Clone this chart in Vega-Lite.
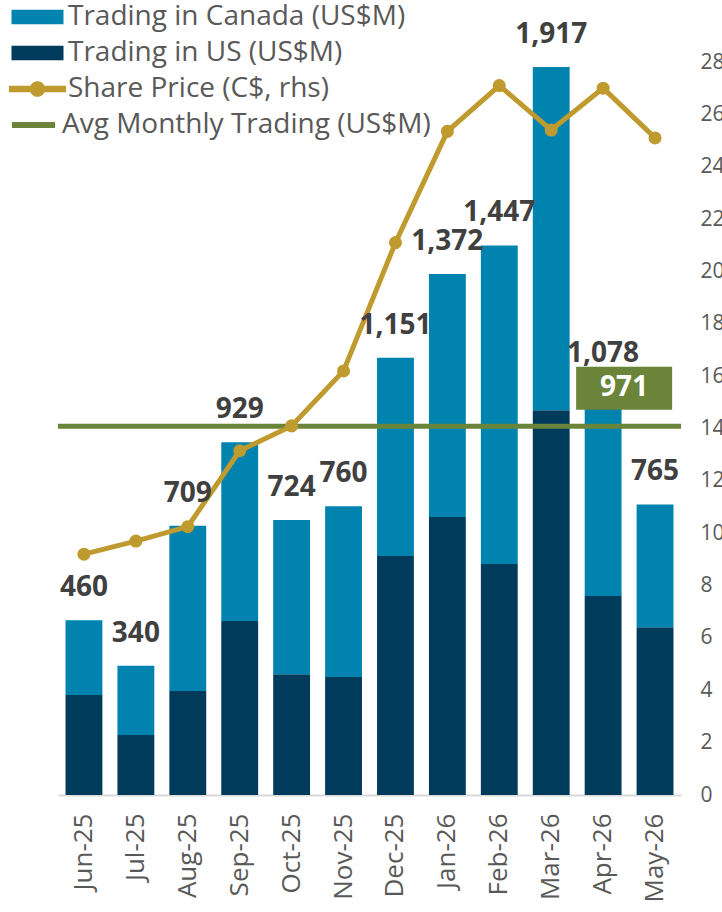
{
  "$schema": "https://vega.github.io/schema/vega-lite/v6.json",
  "autosize": {"type": "none"},
  "padding": {"left": 58, "top": 62, "right": 41, "bottom": 117},
  "width": 623,
  "height": 733,
  "background": "white",
  "config": {
    "view": {"stroke": null},
    "font": "Open Sans"
  },
  "datasets": {
    "trading": [
      {"month": "Jun-25", "series": "Trading in US (US$M)", "value": 263},
      {"month": "Jun-25", "series": "Trading in Canada (US$M)", "value": 197},
      {"month": "Jul-25", "series": "Trading in US (US$M)", "value": 158},
      {"month": "Jul-25", "series": "Trading in Canada (US$M)", "value": 182},
      {"month": "Aug-25", "series": "Trading in US (US$M)", "value": 274},
      {"month": "Aug-25", "series": "Trading in Canada (US$M)", "value": 435},
      {"month": "Sep-25", "series": "Trading in US (US$M)", "value": 458},
      {"month": "Sep-25", "series": "Trading in Canada (US$M)", "value": 471},
      {"month": "Oct-25", "series": "Trading in US (US$M)", "value": 318},
      {"month": "Oct-25", "series": "Trading in Canada (US$M)", "value": 406},
      {"month": "Nov-25", "series": "Trading in US (US$M)", "value": 311},
      {"month": "Nov-25", "series": "Trading in Canada (US$M)", "value": 449},
      {"month": "Dec-25", "series": "Trading in US (US$M)", "value": 629},
      {"month": "Dec-25", "series": "Trading in Canada (US$M)", "value": 522},
      {"month": "Jan-26", "series": "Trading in US (US$M)", "value": 732},
      {"month": "Jan-26", "series": "Trading in Canada (US$M)", "value": 640},
      {"month": "Feb-26", "series": "Trading in US (US$M)", "value": 608},
      {"month": "Feb-26", "series": "Trading in Canada (US$M)", "value": 839},
      {"month": "Mar-26", "series": "Trading in US (US$M)", "value": 1013},
      {"month": "Mar-26", "series": "Trading in Canada (US$M)", "value": 904},
      {"month": "Apr-26", "series": "Trading in US (US$M)", "value": 524},
      {"month": "Apr-26", "series": "Trading in Canada (US$M)", "value": 554},
      {"month": "May-26", "series": "Trading in US (US$M)", "value": 442},
      {"month": "May-26", "series": "Trading in Canada (US$M)", "value": 323}
    ],
    "monthly": [
      {"month": "Jun-25", "total": 460, "price": 9.2},
      {"month": "Jul-25", "total": 340, "price": 9.7},
      {"month": "Aug-25", "total": 709, "price": 10.25},
      {"month": "Sep-25", "total": 929, "price": 13.15},
      {"month": "Oct-25", "total": 724, "price": 14.1},
      {"month": "Nov-25", "total": 760, "price": 16.2},
      {"month": "Dec-25", "total": 1151, "price": 21.1},
      {"month": "Jan-26", "total": 1372, "price": 25.35},
      {"month": "Feb-26", "total": 1447, "price": 27.1},
      {"month": "Mar-26", "total": 1917, "price": 25.4},
      {"month": "Apr-26", "total": 1078, "price": 27.0},
      {"month": "May-26", "total": 765, "price": 25.1}
    ],
    "avg": [
      {"avg": 971, "month": "Apr-26"}
    ]
  },
  "encoding": {
    "x": {
      "field": "month",
      "type": "nominal",
      "sort": null,
      "title": null,
      "scale": {
        "domain": ["Jun-25","Jul-25","Aug-25","Sep-25","Oct-25","Nov-25","Dec-25","Jan-26","Feb-26","Mar-26","Apr-26","May-26"],
        "paddingInner": 0.29,
        "paddingOuter": 0.145
      },
      "axis": {
        "labelAngle": -90,
        "labelAlign": "right",
        "labelBaseline": "middle",
        "labelFontSize": 26,
        "labelColor": "#595959",
        "labelFont": "Open Sans",
        "labelPadding": 18,
        "ticks": false,
        "domainColor": "#d9d9d9",
        "domainWidth": 2,
        "grid": false
      }
    }
  },
  "layer": [
    {
      "layer": [
        {
          "data": {"name": "trading"},
          "mark": {"type": "bar"},
          "encoding": {
            "y": {
              "field": "value",
              "type": "quantitative",
              "stack": "zero",
              "scale": {"domain": [0, 1930], "nice": false},
              "axis": null
            },
            "order": {"field": "series", "sort": "descending"},
            "color": {
              "field": "series",
              "type": "nominal",
              "scale": {
                "domain": ["Trading in Canada (US$M)", "Trading in US (US$M)", "Share Price (C$, rhs)", "Avg Monthly Trading (US$M)"],
                "range": ["#0083AE", "#003B5C", "#BF9A2E", "#6A843A"]
              },
              "legend": {
                "title": null,
                "orient": "none",
                "legendX": -34.5,
                "legendY": -59,
                "direction": "vertical",
                "padding": 0,
                "symbolSize": 676,
                "labelOffset": 16.5,
                "rowPadding": 8,
                "labelFontSize": 28,
                "labelFont": "Open Sans",
                "labelColor": "#595959",
                "labelLimit": 600,
                "encode": {
                  "symbols": {
                    "update": {
                      "shape": {"signal": "datum.value === 'Share Price (C$, rhs)' ? 'M-2.2,-0.25H2.2V0.25H-2.2Z M0.6,0A0.6,0.6,0,1,1,-0.6,0A0.6,0.6,0,1,1,0.6,0Z' : (datum.value === 'Avg Monthly Trading (US$M)' ? 'M-1.96,-0.23H1.35V0.23H-1.96Z' : 'M-2,-0.55H2V0.55H-2Z')"},
                      "fill": {"scale": "color", "field": "value"},
                      "stroke": {"value": "transparent"},
                      "strokeWidth": {"value": 0},
                      "opacity": {"value": 1}
                    }
                  },
                  "labels": {
                    "update": {
                      "dx": {"signal": "datum.value === 'Avg Monthly Trading (US$M)' ? -6 : 0"}
                    }
                  }
                }
              }
            }
          }
        },
        {
          "data": {"name": "avg"},
          "mark": {"type": "rule", "strokeWidth": 5},
          "encoding": {
            "y": {"field": "avg", "type": "quantitative"},
            "x": null,
            "color": {"datum": "Avg Monthly Trading (US$M)"}
          }
        }
      ]
    },
    {
      "data": {"name": "monthly"},
      "layer": [
        {
          "mark": {"type": "line", "strokeWidth": 5},
          "encoding": {
            "y": {
              "field": "price",
              "type": "quantitative",
              "scale": {"domain": [0, 28], "nice": false},
              "axis": {
                "orient": "right",
                "title": null,
                "values": [0,2,4,6,8,10,12,14,16,18,20,22,24,26,28],
                "ticks": false,
                "domain": false,
                "grid": false,
                "labelPadding": 19,
                "labelFontSize": 21,
                "labelColor": "#595959",
                "labelFont": "Open Sans"
              }
            },
            "color": {"datum": "Share Price (C$, rhs)"}
          }
        },
        {
          "mark": {"type": "point", "filled": true, "opacity": 1, "size": 170},
          "encoding": {
            "y": {"field": "price", "type": "quantitative"},
            "color": {"datum": "Share Price (C$, rhs)"}
          }
        }
      ]
    },
    {
      "layer": [
        {
          "data": {"name": "monthly"},
          "mark": {"type": "text", "font": "Open Sans", "fontWeight": "bold", "fontSize": 28, "color": "#404040", "baseline": "alphabetic", "dy": -24},
          "encoding": {
            "y": {"field": "total", "type": "quantitative", "scale": {"domain": [0, 1930], "nice": false}, "axis": null},
            "text": {"field": "total", "type": "quantitative", "format": ",.0f"}
          }
        },
        {
          "data": {"name": "avg"},
          "mark": {"type": "point", "shape": "M-1,-0.448H1V0.448H-1Z", "size": 9216, "filled": true, "opacity": 1, "color": "#6A843A", "xOffset": 21, "yOffset": -38},
          "encoding": {
            "y": {"field": "avg", "type": "quantitative"}
          }
        },
        {
          "data": {"name": "avg"},
          "mark": {"type": "text", "font": "Open Sans", "fontWeight": "bold", "fontSize": 28, "color": "white", "baseline": "middle", "align": "center", "xOffset": 21, "yOffset": -38},
          "encoding": {
            "y": {"field": "avg", "type": "quantitative"},
            "text": {"field": "avg", "type": "quantitative", "format": ",.0f"}
          }
        }
      ]
    }
  ],
  "resolve": {"scale": {"y": "independent"}}
}
